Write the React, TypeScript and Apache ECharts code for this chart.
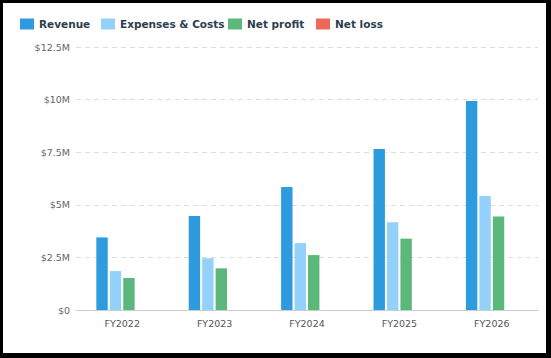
import React, { useEffect, useRef } from "react";
import * as echarts from "echarts";

const categories = ["FY2022", "FY2023", "FY2024", "FY2025", "FY2026"];
const revenue = [3.45, 4.47, 5.85, 7.65, 9.93];
const expenses = [1.85, 2.46, 3.18, 4.17, 5.42];
const netProfit = [1.52, 1.98, 2.61, 3.39, 4.44];
const netLoss: (number | null)[] = [null, null, null, null, null];
const legendNames = ["Revenue", "Expenses & Costs", "Net profit", "Net loss"];

export default function App() {
  const ref = useRef<HTMLDivElement>(null);
  useEffect(() => {
    if (!ref.current) return;
    const chart = echarts.init(ref.current, null, { renderer: "svg" });
    const fmt = (v: number) => (v === 0 ? "$0" : "$" + v + "M");
    const legendLefts = [17, 98, 225, 313];
    chart.setOption({
      animation: false,
      textStyle: { fontFamily: "DejaVu Sans" },
      legend: legendNames.map((n, i) => ({
        left: legendLefts[i],
        top: 15.5,
        padding: 0,
        itemWidth: 14,
        itemHeight: 11,
        icon: "rect",
        textStyle: { fontSize: 10.5, fontWeight: "bold", color: "#2c3e50" },
        data: [n],
      })),
      grid: { left: 73, right: 8, top: 44, bottom: 43, containLabel: false },
      xAxis: {
        type: "category",
        data: categories,
        axisTick: { show: false },
        axisLine: { lineStyle: { color: "#cccccc" } },
        axisLabel: { color: "#555", fontSize: 9.5, margin: 8 },
      },
      yAxis: {
        type: "value",
        min: 0,
        max: 12.5,
        interval: 2.5,
        axisLabel: { color: "#666", fontSize: 9.5, formatter: fmt, margin: 6 },
        splitLine: { lineStyle: { type: [5, 4], color: "#dddddd" } },
        axisLine: { show: false },
        axisTick: { show: false },
      },
      series: [
        { name: "Revenue", type: "bar", data: revenue, itemStyle: { color: "#2d9bdd" }, barGap: "18%", barCategoryGap: "44%" },
        { name: "Expenses & Costs", type: "bar", data: expenses, itemStyle: { color: "#93d1fa" } },
        { name: "Net profit", type: "bar", data: netProfit, itemStyle: { color: "#5bb87b" } },
        { name: "Net loss", type: "bar", data: netLoss, itemStyle: { color: "#eb6a55" } },
      ],
    });
    return () => chart.dispose();
  }, []);
  return (
    <div
      style={{
        position: "fixed",
        left: 0,
        top: 0,
        width: 551,
        height: 358,
        boxSizing: "border-box",
        borderTop: "3px solid #000",
        borderLeft: "3px solid #000",
        borderRight: "5px solid #000",
        borderBottom: "5px solid #000",
        background: "#fff",
      }}
    >
      <div ref={ref} style={{ width: 543, height: 350 }} />
    </div>
  );
}
